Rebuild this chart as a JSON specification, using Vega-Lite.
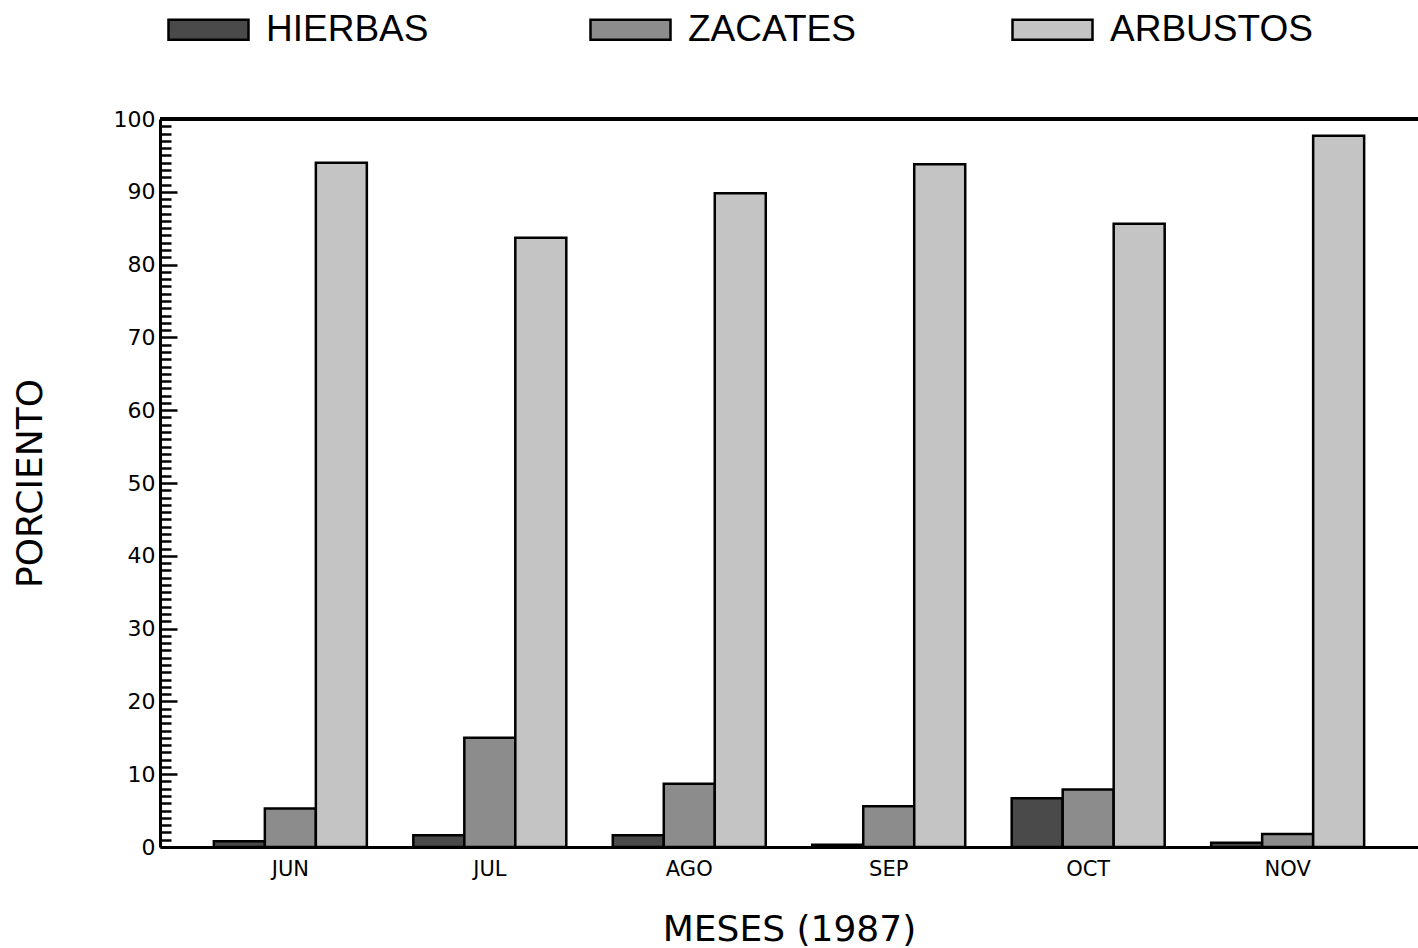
{
  "$schema": "https://vega.github.io/schema/vega-lite/v6.json",
  "width": 1258,
  "height": 728,
  "autosize": {"type": "none"},
  "padding": {"left": 160, "top": 119, "right": 0, "bottom": 101},
  "background": "white",
  "config": {"view": {"stroke": null}, "font": "DejaVu Sans"},
  "data": {
    "values": [
      {"mes": "JUN", "tipo": "HIERBAS", "pct": 0.8},
      {"mes": "JUN", "tipo": "ZACATES", "pct": 5.3},
      {"mes": "JUN", "tipo": "ARBUSTOS", "pct": 94.0},
      {"mes": "JUL", "tipo": "HIERBAS", "pct": 1.6},
      {"mes": "JUL", "tipo": "ZACATES", "pct": 15.0},
      {"mes": "JUL", "tipo": "ARBUSTOS", "pct": 83.7},
      {"mes": "AGO", "tipo": "HIERBAS", "pct": 1.6},
      {"mes": "AGO", "tipo": "ZACATES", "pct": 8.7},
      {"mes": "AGO", "tipo": "ARBUSTOS", "pct": 89.8},
      {"mes": "SEP", "tipo": "HIERBAS", "pct": 0.3},
      {"mes": "SEP", "tipo": "ZACATES", "pct": 5.6},
      {"mes": "SEP", "tipo": "ARBUSTOS", "pct": 93.8},
      {"mes": "OCT", "tipo": "HIERBAS", "pct": 6.7},
      {"mes": "OCT", "tipo": "ZACATES", "pct": 7.9},
      {"mes": "OCT", "tipo": "ARBUSTOS", "pct": 85.6},
      {"mes": "NOV", "tipo": "HIERBAS", "pct": 0.6},
      {"mes": "NOV", "tipo": "ZACATES", "pct": 1.8},
      {"mes": "NOV", "tipo": "ARBUSTOS", "pct": 97.7}
    ]
  },
  "layer": [
    {
      "mark": {"type": "bar", "stroke": "black", "strokeWidth": 2.5},
      "encoding": {
        "x": {
          "field": "mes",
          "type": "nominal",
          "sort": ["JUN", "JUL", "AGO", "SEP", "OCT", "NOV"],
          "scale": {"paddingInner": 0.233, "paddingOuter": 0.27},
          "axis": {
            "title": "MESES (1987)",
            "titleFont": "DejaVu Sans",
            "titleFontSize": 36,
            "titleFontWeight": "normal",
            "titleColor": "black",
            "titlePadding": 33,
            "labelAngle": 0,
            "labelFont": "DejaVu Sans",
            "labelFontSize": 21,
            "labelColor": "black",
            "labelPadding": 11,
            "ticks": false,
            "domainColor": "black",
            "domainWidth": 3
          }
        },
        "xOffset": {
          "field": "tipo",
          "type": "nominal",
          "sort": ["HIERBAS", "ZACATES", "ARBUSTOS"],
          "scale": {"paddingInner": 0, "paddingOuter": 0}
        },
        "y": {
          "field": "pct",
          "type": "quantitative",
          "scale": {"domain": [0, 100], "nice": false},
          "axis": {
            "title": "PORCIENTO",
            "titleFont": "DejaVu Sans",
            "titleFontSize": 36,
            "titleFontWeight": "normal",
            "titleColor": "black",
            "titlePadding": 64,
            "tickCount": 100,
            "labelOverlap": false,
            "labelExpr": "datum.value % 10 === 0 ? datum.label : ''",
            "labelFont": "DejaVu Sans",
            "labelFontSize": 22,
            "labelColor": "black",
            "labelPadding": 22,
            "tickSize": {"condition": {"test": "datum.value % 10 === 0", "value": -17}, "value": -11},
            "tickColor": "black",
            "tickWidth": 2.5,
            "domainColor": "black",
            "domainWidth": 3,
            "grid": false
          }
        },
        "fill": {
          "field": "tipo",
          "type": "nominal",
          "sort": ["HIERBAS", "ZACATES", "ARBUSTOS"],
          "scale": {"domain": ["HIERBAS", "ZACATES", "ARBUSTOS"], "range": ["#4a4a4a", "#8c8c8c", "#c4c4c4"]},
          "legend": {
            "title": null,
            "orient": "none",
            "legendX": 7,
            "legendY": -131,
            "direction": "horizontal",
            "columns": 3,
            "gridAlign": "all",
            "columnPadding": 116,
            "padding": 0,
            "symbolType": "M-1,-0.25H1V0.25H-1Z",
            "symbolSize": 6400,
            "symbolStrokeColor": "black",
            "symbolStrokeWidth": 2.5,
            "symbolOpacity": 1,
            "labelFont": "Liberation Sans",
            "labelFontSize": 37,
            "labelColor": "black",
            "labelOffset": 16,
            "labelLimit": 400
          }
        }
      }
    },
    {
      "mark": {"type": "rule", "color": "black", "strokeWidth": 3},
      "encoding": {"y": {"datum": 100}}
    }
  ]
}
